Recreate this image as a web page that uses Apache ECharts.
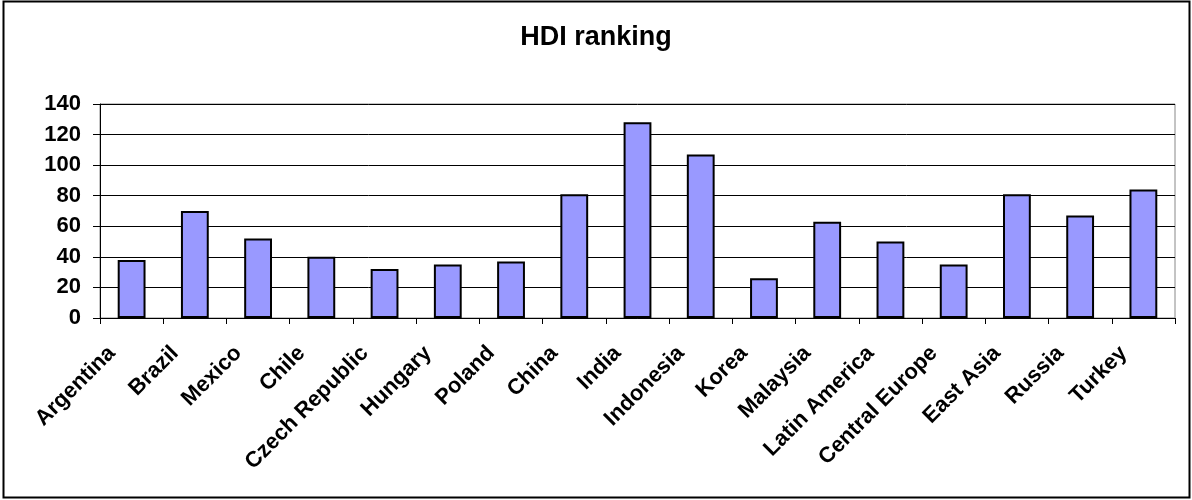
<!DOCTYPE html>
<html>
<head>
<meta charset="utf-8">
<script src="https://cdn.jsdelivr.net/npm/echarts@6/dist/echarts.min.js"></script>
<style>
  html, body { margin: 0; padding: 0; background: #fff; }
  #chart { width: 1192px; height: 500px; }
</style>
</head>
<body>
<div id="chart"></div>
<script>
const countries = ['Argentina', 'Brazil', 'Mexico', 'Chile', 'Czech Republic', 'Hungary', 'Poland', 'China',
    'India', 'Indonesia', 'Korea', 'Malaysia', 'Latin America', 'Central Europe', 'East Asia', 'Russia', 'Turkey'];
const hdiRank = [38, 70, 52, 40, 32, 35, 37, 81, 128, 107, 26, 63, 50, 35, 81, 67, 84];
const yTicks = [0, 20, 40, 60, 80, 100, 120, 140];

const chart = echarts.init(document.getElementById('chart'));
const font = '"Liberation Sans", Arial, sans-serif';

chart.setOption({
    animation: false,
    textStyle: { fontFamily: font },
    title: {
        text: 'HDI ranking',
        left: 'center',
        top: 19,
        textStyle: { fontFamily: font, fontWeight: 'bold', fontSize: 27, color: '#000' }
    },
    graphic: [{
        type: 'rect',
        shape: { x: 3.5, y: 1.5, width: 1186, height: 496 },
        style: { fill: 'none', stroke: '#000', lineWidth: 2 },
        silent: true
    }],
    grid: {
        left: 100, right: 17, top: 104, bottom: 182,
        show: true, borderColor: '#888', borderWidth: 1
    },
    xAxis: {
        type: 'category',
        data: countries,
        axisLine: { lineStyle: { color: '#000', width: 1 } },
        axisTick: { show: true, length: 6, lineStyle: { color: '#000' } },
        axisLabel: {
            rotate: 45, interval: 0, margin: 12,
            padding: [0, 28, 0, 0],
            fontFamily: font, fontWeight: 'bold', fontSize: 22, color: '#000'
        }
    },
    yAxis: {
        type: 'value',
        min: yTicks[0], max: yTicks[yTicks.length - 1], interval: 20,
        axisLine: { show: true, lineStyle: { color: '#000' } },
        axisTick: { show: true, length: 7, lineStyle: { color: '#000' } },
        axisLabel: { fontFamily: font, fontWeight: 'bold', fontSize: 22, color: '#000', margin: 19 },
        splitLine: { lineStyle: { color: '#000', width: 1 } }
    },
    series: [{
        type: 'bar',
        data: hdiRank,
        barWidth: '44%',
        itemStyle: { color: '#9999FF', borderColor: '#000', borderWidth: 2 }
    }]
});
</script>
</body>
</html>
